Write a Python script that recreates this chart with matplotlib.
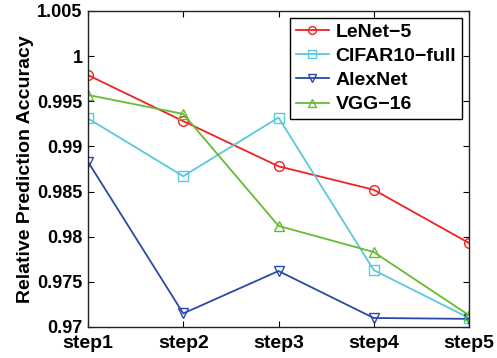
import matplotlib
matplotlib.use('Agg')
import matplotlib.pyplot as plt

plt.rcParams['font.family'] = ['Liberation Sans', 'DejaVu Sans']
plt.rcParams['font.weight'] = 'bold'

steps = ['step1', 'step2', 'step3', 'step4', 'step5']
x = [1, 2, 3, 4, 5]
lenet = [0.9979, 0.9928, 0.9878, 0.9852, 0.9793]
cifar = [0.9931, 0.9867, 0.9932, 0.9763, 0.9710]
alexnet = [0.9883, 0.9715, 0.9762, 0.9710, 0.9709]
vgg = [0.9957, 0.9936, 0.9812, 0.9783, 0.9713]

fig = plt.figure(figsize=(4.97, 3.58), dpi=100)
ax = fig.add_axes([88/497, 1-327/358, (469-88)/497, (327-11)/358])

ax.plot(x, lenet, '-o', color='#ee2222', mfc='none', ms=7, lw=1.3, label='LeNet\u22125')
ax.plot(x, cifar, '-s', color='#5bc8dc', mfc='none', ms=7, lw=1.3, label='CIFAR10\u2212full')
ax.plot(x, alexnet, '-v', color='#2a4aa8', mfc='none', ms=7, lw=1.3, label='AlexNet')
ax.plot(x, vgg, '-^', color='#66bb33', mfc='none', ms=7, lw=1.3, label='VGG\u221216')

ax.set_xlim(1, 5)
ax.set_ylim(0.97, 1.005)
ax.set_xticks(x)
ax.set_xticklabels(steps)
ax.set_yticks([0.97, 0.975, 0.98, 0.985, 0.99, 0.995, 1.0, 1.005])
ax.set_yticklabels(['0.97', '0.975', '0.98', '0.985', '0.99', '0.995', '1', '1.005'])
ax.tick_params(direction='in', top=True, right=True, length=4)
ax.tick_params(axis='y', labelsize=13, pad=4)
ax.tick_params(axis='x', labelsize=14, pad=6)
for s in ax.spines.values():
    s.set_linewidth(1.0)
    s.set_color('#222222')
ax.set_ylabel('Relative Prediction Accuracy', fontsize=14, fontweight='bold', labelpad=2)

leg = ax.legend(loc='upper right', fontsize=14, fancybox=False, framealpha=1,
                edgecolor='black', borderaxespad=0.35, handlelength=1.7,
                handletextpad=0.35, labelspacing=0.33, borderpad=0.3,
                markerscale=0.8)
leg.get_frame().set_linewidth(1.0)

fig.savefig('out.png', dpi=100)
